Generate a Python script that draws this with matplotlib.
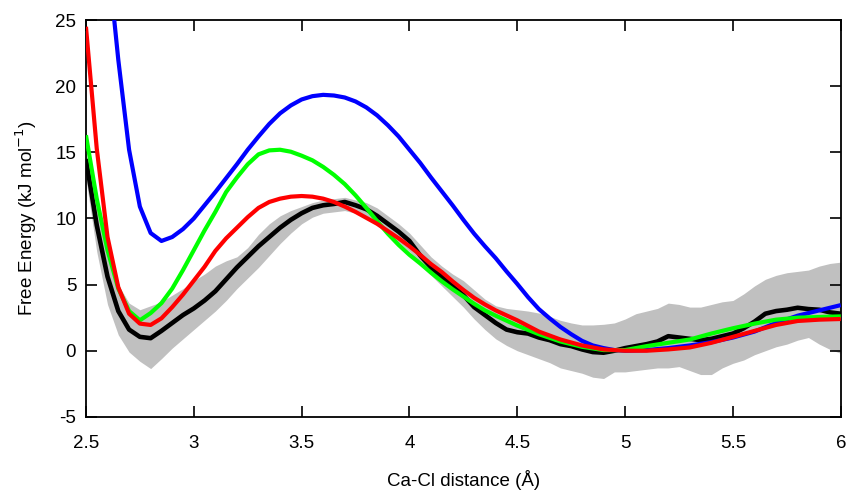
import matplotlib
matplotlib.use('Agg')
import matplotlib.pyplot as plt

plt.rcParams['font.family'] = ['Liberation Sans', 'DejaVu Sans']
plt.rcParams['axes.unicode_minus'] = False

# Reference (black) with uncertainty band, 0.05 A steps
ref_x = [2.5, 2.55, 2.6, 2.65, 2.7, 2.75, 2.8, 2.85, 2.9, 2.95, 3.0, 3.05, 3.1, 3.15, 3.2,
         3.25, 3.3, 3.35, 3.4, 3.45, 3.5, 3.55, 3.6, 3.65, 3.7, 3.75, 3.8, 3.85, 3.9, 3.95,
         4.0, 4.05, 4.1, 4.15, 4.2, 4.25, 4.3, 4.35, 4.4, 4.45, 4.5, 4.55, 4.6, 4.65, 4.7,
         4.75, 4.8, 4.85, 4.9, 4.95, 5.0, 5.05, 5.1, 5.15, 5.2, 5.25, 5.3, 5.35, 5.4, 5.45,
         5.5, 5.55, 5.6, 5.65, 5.7, 5.75, 5.8, 5.85, 5.9, 5.95, 6.0]
ref_y = [14.5, 9.5, 5.6, 3.0, 1.6, 1.05, 0.95, 1.5, 2.1, 2.7, 3.2, 3.8, 4.5, 5.4, 6.3,
         7.1, 7.9, 8.6, 9.3, 9.9, 10.4, 10.8, 11.0, 11.1, 11.25, 11.0, 10.7, 10.2, 9.6, 9.0,
         8.3, 7.2, 6.3, 5.6, 4.9, 4.2, 3.3, 2.7, 2.1, 1.6, 1.4, 1.3, 1.0, 0.8, 0.5,
         0.35, 0.1, -0.1, -0.15, 0.0, 0.2, 0.35, 0.5, 0.7, 1.1, 1.0, 0.9, 0.8, 0.9, 1.1,
         1.3, 1.7, 2.2, 2.8, 3.0, 3.1, 3.25, 3.15, 3.1, 2.9, 2.8]
ref_lo = [13.0, 7.5, 3.5, 1.2, -0.1, -0.8, -1.35, -0.6, 0.2, 0.9, 1.6, 2.3, 3.0, 3.8, 4.7,
          5.5, 6.3, 7.2, 8.1, 8.9, 9.6, 10.1, 10.4, 10.5, 10.6, 10.4, 10.0, 9.5, 8.9, 8.2,
          7.5, 6.5, 5.7, 4.9, 4.1, 3.3, 2.4, 1.6, 0.9, 0.4, 0.0, -0.3, -0.6, -0.9, -1.3,
          -1.5, -1.7, -2.0, -2.1, -1.6, -1.6, -1.5, -1.4, -1.3, -1.3, -1.2, -1.5, -1.8, -1.8, -1.3,
          -0.95, -0.7, -0.3, 0.0, 0.3, 0.5, 0.8, 1.0, 0.5, 0.1, -0.2]
ref_hi = [15.0, 11.0, 7.5, 5.0, 3.6, 3.1, 3.4, 3.7, 4.2, 4.7, 5.3, 5.8, 6.4, 6.8, 7.1,
          7.8, 8.8, 9.6, 10.2, 10.6, 10.9, 11.2, 11.4, 11.5, 11.6, 11.4, 11.2, 10.8, 10.2, 9.6,
          8.9, 8.0, 7.1, 6.4, 5.8, 5.3, 4.6, 3.9, 3.4, 3.2, 3.1, 3.0, 2.85, 2.6, 2.3,
          2.1, 1.95, 1.95, 2.0, 2.1, 2.4, 2.8, 3.0, 3.2, 3.6, 3.5, 3.3, 3.3, 3.5, 3.7,
          3.8, 4.3, 4.9, 5.4, 5.7, 5.9, 6.0, 6.1, 6.4, 6.6, 6.7]

blue_x = [2.6, 2.65, 2.7, 2.75, 2.8, 2.85, 2.9, 2.95, 3.0, 3.05, 3.1, 3.15, 3.2, 3.25,
          3.3, 3.35, 3.4, 3.45, 3.5, 3.55, 3.6, 3.65, 3.7, 3.75, 3.8, 3.85, 3.9, 3.95,
          4.0, 4.05, 4.1, 4.15, 4.2, 4.25, 4.3, 4.35, 4.4, 4.45, 4.5, 4.55, 4.6, 4.65,
          4.7, 4.75, 4.8, 4.85, 4.9, 4.95, 5.0, 5.1, 5.2, 5.3, 5.4, 5.5, 5.6, 5.7, 5.8,
          5.9, 6.0]
blue_y = [30.0, 22.0, 15.2, 10.9, 8.9, 8.3, 8.6, 9.2, 10.0, 11.0, 12.0, 13.05, 14.1, 15.2,
          16.2, 17.15, 17.95, 18.55, 19.0, 19.25, 19.35, 19.3, 19.15, 18.85, 18.4, 17.8, 17.05, 16.2,
          15.2, 14.2, 13.1, 12.05, 11.0, 9.9, 8.85, 7.9, 7.0, 6.0, 5.05, 4.05, 3.15, 2.45,
          1.8, 1.25, 0.75, 0.4, 0.2, 0.05, 0.0, 0.05, 0.2, 0.4, 0.65, 1.0, 1.45, 2.1, 2.65,
          3.05, 3.45]

green_x = [2.5, 2.55, 2.6, 2.65, 2.7, 2.75, 2.8, 2.85, 2.9, 2.95, 3.0, 3.05, 3.1, 3.15, 3.2,
           3.25, 3.3, 3.35, 3.4, 3.45, 3.5, 3.55, 3.6, 3.65, 3.7, 3.75, 3.8, 3.85, 3.9, 3.95,
           4.0, 4.05, 4.1, 4.15, 4.2, 4.25, 4.3, 4.35, 4.4, 4.5, 4.6, 4.7, 4.8, 4.9, 5.0,
           5.1, 5.2, 5.3, 5.4, 5.5, 5.6, 5.7, 5.8, 5.9, 6.0]
green_y = [16.3, 11.5, 7.6, 4.7, 3.0, 2.3, 2.85, 3.6, 4.7, 6.1, 7.6, 9.1, 10.5, 12.0, 13.1,
           14.1, 14.85, 15.15, 15.2, 15.05, 14.75, 14.4, 13.9, 13.3, 12.6, 11.75, 10.8, 9.8, 8.85, 8.0,
           7.25, 6.6, 5.9, 5.25, 4.65, 4.1, 3.55, 3.05, 2.65, 1.9, 1.25, 0.7, 0.3, 0.05, 0.05,
           0.35, 0.6, 0.85, 1.3, 1.7, 2.05, 2.35, 2.5, 2.55, 2.6]

red_x = [2.5, 2.55, 2.6, 2.65, 2.7, 2.75, 2.8, 2.85, 2.9, 2.95, 3.0, 3.05, 3.1, 3.15, 3.2,
         3.25, 3.3, 3.35, 3.4, 3.45, 3.5, 3.55, 3.6, 3.65, 3.7, 3.75, 3.8, 3.85, 3.9, 3.95,
         4.0, 4.05, 4.1, 4.15, 4.2, 4.25, 4.3, 4.35, 4.4, 4.5, 4.6, 4.7, 4.8, 4.9, 5.0,
         5.1, 5.2, 5.3, 5.4, 5.5, 5.6, 5.7, 5.8, 5.9, 6.0]
red_y = [24.5, 15.3, 8.6, 4.8, 2.8, 2.05, 1.95, 2.45, 3.3, 4.25, 5.3, 6.35, 7.55, 8.5, 9.3,
         10.1, 10.8, 11.25, 11.5, 11.65, 11.7, 11.65, 11.5, 11.25, 10.9, 10.5, 10.05, 9.6, 9.05, 8.5,
         7.9, 7.25, 6.55, 5.95, 5.25, 4.6, 4.0, 3.5, 3.05, 2.3, 1.45, 0.85, 0.4, 0.1, 0.0,
         0.0, 0.1, 0.25, 0.6, 1.05, 1.5, 1.95, 2.25, 2.35, 2.4]

X_TICKS = [2.5, 3, 3.5, 4, 4.5, 5, 5.5, 6]
X_LABELS = ['2.5', '3', '3.5', '4', '4.5', '5', '5.5', '6']
Y_TICKS = [-5, 0, 5, 10, 15, 20, 25]


def main():
    fig = plt.figure(figsize=(8.51, 4.91), dpi=100)
    ax = fig.add_axes([0.101, 0.151, 0.887, 0.808])

    line_kw = dict(linewidth=3.0, solid_joinstyle='round', solid_capstyle='butt')
    ax.fill_between(ref_x, ref_lo, ref_hi, color='#c0c0c0', linewidth=0, zorder=1)
    ax.plot(ref_x, ref_y, color='black', zorder=2, **dict(line_kw, linewidth=3.3))
    ax.plot(blue_x, blue_y, color='#0000ff', zorder=3, **line_kw)
    ax.plot(green_x, green_y, color='#00ff00', zorder=4, **line_kw)
    ax.plot(red_x, red_y, color='#ff0000', zorder=5, **line_kw)

    ax.set_xlim(2.5, 6)
    ax.set_ylim(-5, 25)
    ax.set_xticks(X_TICKS)
    ax.set_xticklabels(X_LABELS)
    ax.set_yticks(Y_TICKS)
    ax.tick_params(direction='in', length=8, width=1.2, top=True, right=True,
                   labelsize=13.5)
    ax.tick_params(axis='x', pad=13)
    ax.tick_params(axis='y', pad=7)
    for sp in ax.spines.values():
        sp.set_linewidth(1.3)

    ax.set_xlabel('Ca-Cl distance (Å)', fontsize=13.5, labelpad=13)
    ax.set_ylabel('Free Energy (kJ mol$^{-1}$)', fontsize=13.5, labelpad=12)

    fig.savefig('out.png', dpi=100)
    plt.close(fig)


if __name__ == '__main__':
    main()
